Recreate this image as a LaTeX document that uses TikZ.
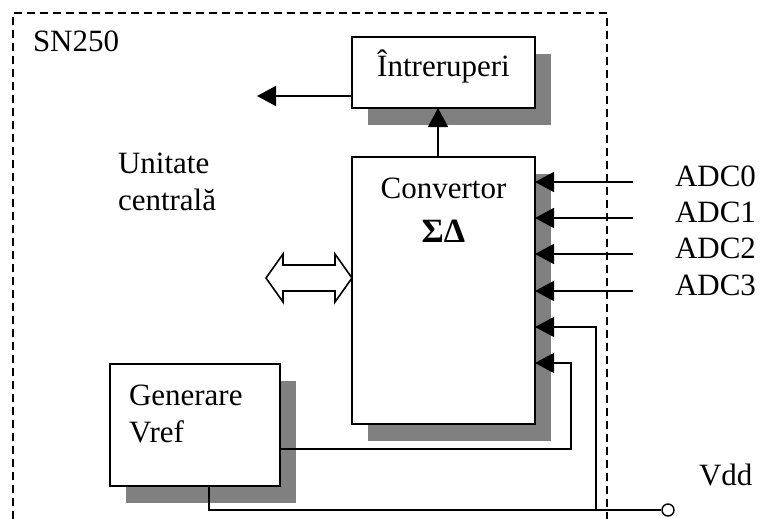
\documentclass[tikz,border=0pt]{standalone}
\usepackage{fontspec}
\setmainfont{Liberation Serif}
\usetikzlibrary{arrows.meta,positioning,shadows}

\begin{document}
\begin{tikzpicture}[
    x=1pt, y=-1pt,
    every node/.style={font=\fontsize{31}{37}\selectfont},
    box/.style={rectangle, draw=black, line width=1.8pt, fill=white, inner sep=0pt, outer sep=0pt, drop shadow={opacity=1, fill=black!50, shadow xshift=16pt, shadow yshift=-17pt}},
    txt/.style={inner sep=0pt, outer sep=0pt},
    arrow/.style={-{Triangle[length=19pt, width=20pt]}, line width=1.6pt},
    wire/.style={line width=1.6pt},
    border/.style={line width=1.6pt, dash pattern=on 8pt off 5pt}
]
\path[use as bounding box, fill=white] (0,0) rectangle (760,519);

% Chip outline
\draw[border] (13,519) -- (13,13) -- (607,13) -- (607,519);
\node[txt, anchor=base west] (chip) at (33,52) {SN250};

% Blocks
\node[box, minimum width=183pt, minimum height=267pt] (conv) at (443.5,290.5) {};
\node[box, minimum width=183pt, minimum height=71pt, above=49pt of conv] (intr) {};
\node[box, minimum width=170pt, minimum height=122pt] (gen) at (195,425) {};

% Block texts
\node[txt, anchor=base] (intrtxt) at ([yshift=-40pt]intr.north) {Întreruperi};
\node[txt, anchor=base] (convtxt) at ([yshift=-41pt]conv.north) {Convertor};
\node[txt, anchor=base, font=\fontsize{34}{37}\selectfont\bfseries] (sdtxt) at ([yshift=-44pt]convtxt.base) {ΣΔ};
\node[txt, align=left, anchor=base west] (gentxt) at ([xshift=19pt, yshift=-78pt]gen.north west) {Generare\\Vref};
\node[txt, align=left, anchor=base west] (cpu) at (118,210) {Unitate\\centrală};

% Interrupt line and bus
\coordinate (irq) at (257,96);
\draw[arrow] (intr.west |- irq) -- (irq);
\draw[arrow] ([xshift=-5.5pt]conv.north) -- ([xshift=-5.5pt]intr.south);
\coordinate (bus) at ([yshift=12.5pt]conv.west);
\draw[wire, line join=miter] (bus) -- ++(-17,-24) -- ++(0,11) -- ++(-52,0) -- ++(0,-11)
    -- ++(-17,24) -- ++(17,24) -- ++(0,-11) -- ++(52,0) -- ++(0,11) -- cycle;

% Analog inputs
\coordinate (adc0) at (633,182);
\coordinate (adc1) at (633,218);
\coordinate (adc2) at (633,254);
\coordinate (adc3) at (633,291);
\draw[arrow] (adc0) -- (conv.east |- adc0);
\draw[arrow] (adc1) -- (conv.east |- adc1);
\draw[arrow] (adc2) -- (conv.east |- adc2);
\draw[arrow] (adc3) -- (conv.east |- adc3);
\node[txt, anchor=base west] (l0) at ([xshift=42pt, yshift=-4.5pt]adc0) {ADC0};
\node[txt, anchor=base west] (l1) at ([xshift=42pt, yshift=-4.5pt]adc1) {ADC1};
\node[txt, anchor=base west] (l2) at ([xshift=42pt, yshift=-4.5pt]adc2) {ADC2};
\node[txt, anchor=base west] (l3) at ([xshift=42pt, yshift=-4.5pt]adc3) {ADC3};

% Reference and supply
\node[circle, draw=black, fill=white, line width=1.4pt, minimum size=12pt, inner sep=0pt] (vdd) at (668,510) {};
\node[txt, anchor=base west] (vddtxt) at ([xshift=31pt, yshift=25pt]vdd.center) {Vdd};
\coordinate (bend) at (571,363);
\coordinate (tap) at (596,510);
\draw[wire] ([xshift=14pt]gen.south) |- (vdd.west);
\draw[arrow, line width=1.3pt] ([yshift=-24pt]gen.east) -| (bend) -- (conv.east |- bend);
\draw[arrow, line width=1.3pt] (tap) |- ([yshift=-36.5pt]conv.east);

\end{tikzpicture}
\end{document}
